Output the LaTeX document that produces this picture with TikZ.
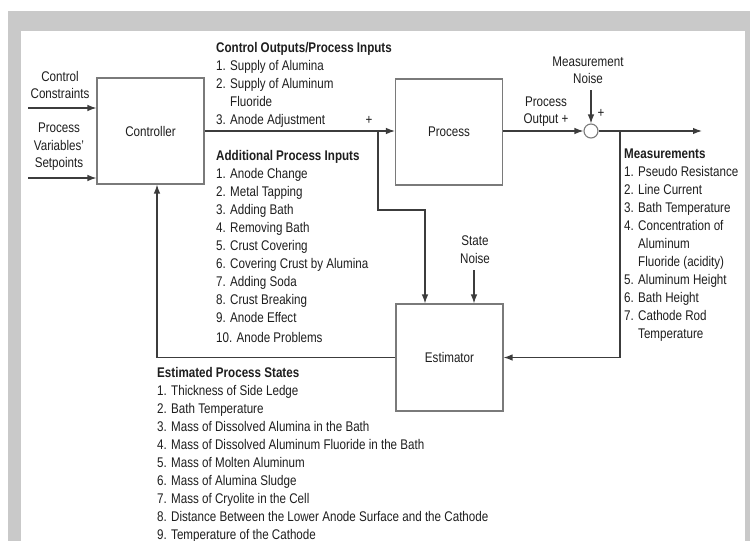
\documentclass[tikz,border=0pt]{standalone}
\usepackage{fontspec}
\setmainfont{Liberation Sans}[FakeStretch=0.83]
\usetikzlibrary{arrows.meta}
\definecolor{framegray}{HTML}{C9C9C9}
\definecolor{boxgray}{HTML}{7A7A7A}
\definecolor{wiregray}{HTML}{3C3C3C}
\definecolor{txt}{HTML}{1E1E1E}
\tikzset{
  blk/.style={draw=boxgray, line width=1.1pt, minimum width=107pt, minimum height=106pt,
    inner sep=0pt, text=txt, font=\fontsize{14}{17}\selectfont},
  wire/.style={draw=wiregray, line width=1.2pt},
  arr/.style={wire, -{Latex[length=9pt,width=6.5pt]}},
  lbl/.style={inner sep=0pt, anchor=base west, text=txt, font=\fontsize{14}{17}\selectfont},
  ttl/.style={lbl, font=\fontsize{14}{17}\selectfont\bfseries},
  clbl/.style={lbl, anchor=base},
}
\begin{document}
\begin{tikzpicture}[x=1pt, y=-1pt]
  \useasboundingbox (0,0) rectangle (750,541);
  % frame
  \fill[framegray] (8,11) rectangle (750,541);
  \fill[white] (21,31) rectangle (745,541);

  % blocks
  \node[blk] (ctrl) at (150.5,131) {Controller};
  \node[blk] (proc) at (449,132) {Process};
  \node[blk, minimum height=107pt] (est) at (449.5,357.5) {Estimator};
  \node[circle, draw=boxgray, line width=1.1pt, minimum size=14pt, inner sep=0pt, fill=white] (sum) at (591,131) {};

  % free ends and bends
  \coordinate (cc) at (28,108);
  \coordinate (sp) at (28,178);
  \coordinate (br) at (378,131);
  \coordinate (bend) at (378,210);
  \coordinate (estin) at ([xshift=-24.5pt]est.north);
  \coordinate (out) at (702,131);
  \coordinate (mb) at (620,131);
  \coordinate (mn) at (591,90);
  \coordinate (sn) at (474,270);
  \coordinate (fb) at ([xshift=6.5pt]ctrl.south);

  % connectors
  \draw[arr] (cc) -- (cc -| ctrl.west);
  \draw[arr] (sp) -- (sp -| ctrl.west);
  \draw[arr] (ctrl.east) -- (ctrl.east -| proc.west);
  \draw[arr] (br) -- (bend) -| (estin);
  \draw[arr] (proc.east |- sum) -- (sum.west);
  \draw[arr] (sum.east) -- (out);
  \draw[arr] (mn) -- (sum.north);
  \draw[arr] (mb) |- (est.east);
  \draw[arr] (sn) -- (sn |- est.north);
  \draw[arr] (est.west) -| (fb);

  % inputs on the left
  \node[clbl] (cc1) at (60,81) {Control};
  \node[clbl] (cc2) at (60,98) {Constraints};
  \node[clbl] (sp1) at (59,132) {Process};
  \node[clbl] (sp2) at (59,150) {Variables'};
  \node[clbl] (sp3) at (59,167) {Setpoints};

  % control outputs
  \node[ttl] (cot) at (216,52) {Control Outputs/Process Inputs};
  \node[lbl] (co1) at (216,70) {1. Supply of Alumina};
  \node[lbl] (co2) at (216,88) {2. Supply of Aluminum};
  \node[lbl] (co2b) at (230,106) {Fluoride};
  \node[lbl] (co3) at (216,124) {3. Anode Adjustment};
  \node[clbl] (plus1) at (369,124) {+};

  % additional process inputs
  \node[ttl] (adt) at (216,160) {Additional Process Inputs};
  \foreach \t [count=\i] in {1. Anode Change, 2. Metal Tapping, 3. Adding Bath,
      4. Removing Bath, 5. Crust Covering, 6. Covering Crust by Alumina,
      7. Adding Soda, 8. Crust Breaking, 9. Anode Effect}
    \node[lbl] (ad\i) at (216,160+18*\i) {\t};
  \node[lbl] (ad10) at (216,342) {10. Anode Problems};

  % process output and noise labels
  \node[clbl] (po1) at (546,106) {Process};
  \node[clbl] (po2) at (546,123) {Output +};
  \node[clbl] (mn1) at (588,66) {Measurement};
  \node[clbl] (mn2) at (588,83) {Noise};
  \node[clbl] (plus2) at (601,117) {+};
  \node[clbl] (sn1) at (475,245) {State};
  \node[clbl] (sn2) at (475,263) {Noise};

  % measurements
  \node[ttl] (mt) at (624,158) {Measurements};
  \node[lbl] (m1) at (624,176) {1. Pseudo Resistance};
  \node[lbl] (m2) at (624,194) {2. Line Current};
  \node[lbl] (m3) at (624,212) {3. Bath Temperature};
  \node[lbl] (m4) at (624,230) {4. Concentration of};
  \node[lbl] (m4b) at (638,248) {Aluminum};
  \node[lbl] (m4c) at (638,266) {Fluoride (acidity)};
  \node[lbl] (m5) at (624,284) {5. Aluminum Height};
  \node[lbl] (m6) at (624,302) {6. Bath Height};
  \node[lbl] (m7) at (624,320) {7. Cathode Rod};
  \node[lbl] (m7b) at (638,338) {Temperature};

  % estimated process states
  \node[ttl] (et) at (157,377) {Estimated Process States};
  \foreach \t [count=\i] in {1. Thickness of Side Ledge, 2. Bath Temperature,
      3. Mass of Dissolved Alumina in the Bath,
      4. Mass of Dissolved Aluminum Fluoride in the Bath,
      5. Mass of Molten Aluminum, 6. Mass of Alumina Sludge,
      7. Mass of Cryolite in the Cell,
      8. Distance Between the Lower Anode Surface and the Cathode,
      9. Temperature of the Cathode}
    \node[lbl] (es\i) at (157,377+18*\i) {\t};
\end{tikzpicture}
\end{document}
